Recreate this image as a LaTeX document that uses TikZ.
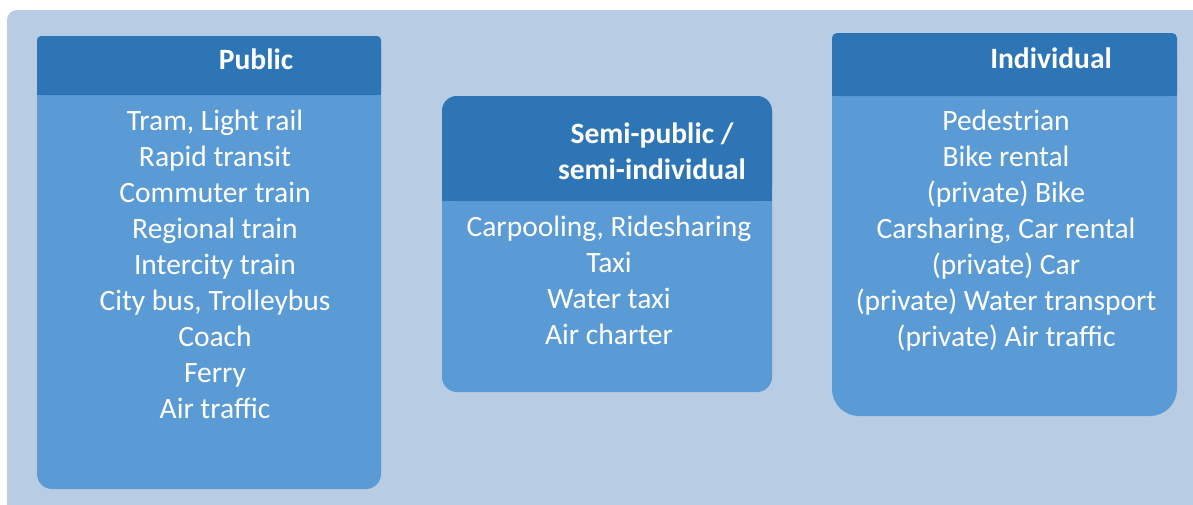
\documentclass[tikz,border=0pt]{standalone}
\usepackage{fontspec}
\setmainfont{Carlito}
\usetikzlibrary{positioning}
\definecolor{bgblue}{HTML}{B8CCE4}
\definecolor{headblue}{HTML}{2E75B6}
\definecolor{bodyblue}{HTML}{5B9BD5}
\tikzset{
  title/.style={text=white,font=\fontsize{16.8}{20.5}\selectfont\bfseries,align=center},
  items/.style={text=white,font=\fontsize{16.8}{20.5}\selectfont,align=center}
}

\begin{document}
\begin{tikzpicture}[x=0.02cm,y=-0.02cm]
        \useasboundingbox (0,0) rectangle (1193,504);
        \fill[white] (0,0) rectangle (1193,504);
        \fill[bgblue,rounded corners=0.2cm] (7,10) rectangle (1240,560);

        \fill[bodyblue,rounded corners=0.3cm] (37,36) rectangle (381,489);
        \fill[headblue,rounded corners=0.08cm] (37,36) rectangle (381,95);
        \fill[headblue] (37,60) rectangle (381,95);

        \fill[bodyblue,rounded corners=0.3cm] (442,96) rectangle (772,392);
        \fill[headblue,rounded corners=0.3cm] (442,96) rectangle (772,201);
        \fill[headblue] (442,150) rectangle (772,201);

        \fill[bodyblue,rounded corners=0.54cm] (832,33) rectangle (1177,416);
        \fill[headblue,rounded corners=0.1cm] (832,33) rectangle (1177,96);
        \fill[headblue] (832,60) rectangle (1177,96);

        \node[title] (pubTitle) at (256,59) {Public};
        \node[title] (semiTitle) at (652,151) {Semi-public /\\semi-individual};
        \node[title] (indTitle) at (1051,58) {Individual};

        \node[items] (pubList) at (215,264) {Tram, Light rail\\Rapid transit\\Commuter train\\Regional train\\Intercity train\\City bus, Trolleybus\\Coach\\Ferry\\Air traffic};
        \node[items] (semiList) at (609,280) {Carpooling, Ridesharing\\Taxi\\Water taxi\\Air charter};
        \node[items] (indList) at (1006,231) {Pedestrian\\Bike rental\\(private) Bike\\Carsharing, Car rental\\(private) Car\\(private) Water transport\\(private) Air traffic};
      \end{tikzpicture}
\end{document}
